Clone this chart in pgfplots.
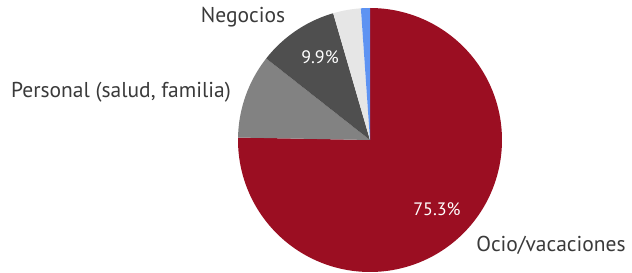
\documentclass[border=0pt]{standalone}
\usepackage{pgfplots}
\pgfplotsset{compat=1.18}
\usepackage{fontspec}
\setmainfont{PT Sans}
\definecolor{ocio}{HTML}{9B0E22}
\definecolor{pers}{HTML}{828282}
\definecolor{nego}{HTML}{4F4F4F}
\definecolor{otro}{HTML}{E6E6E6}
\definecolor{azul}{HTML}{5E93F2}
\definecolor{txt}{HTML}{3A3A3A}
% shares in percent
\def\vOcio{75.3}
\def\vPers{10.3}
\def\vNego{9.9}
\def\vOtro{3.4}
\def\vAzul{1.1}
\begin{document}
\begin{tikzpicture}
\pgfmathsetmacro\aA{90}
\pgfmathsetmacro\aB{\aA-3.6*\vOcio}
\pgfmathsetmacro\aC{\aB-3.6*\vPers}
\pgfmathsetmacro\aD{\aC-3.6*\vNego}
\pgfmathsetmacro\aE{\aD-3.6*\vOtro}
\pgfmathsetmacro\aF{\aE-3.6*\vAzul}
\begin{axis}[
  width=632pt, height=273pt, scale only axis,
  xmin=0, xmax=632, ymin=0, ymax=273,
  hide axis, clip=false,
]
\def\cx{370}\def\cy{133}\def\r{132}
\path (rel axis cs:0,0) rectangle (rel axis cs:1,1);
\addplot[fill=ocio, draw=none, domain=\aB:\aA, samples=180] ({\cx+\r*cos(x)},{\cy+\r*sin(x)}) -- (axis cs:\cx,\cy) -- cycle;
\addplot[fill=pers, draw=none, domain=\aC:\aB, samples=40] ({\cx+\r*cos(x)},{\cy+\r*sin(x)}) -- (axis cs:\cx,\cy) -- cycle;
\addplot[fill=nego, draw=none, domain=\aD:\aC, samples=40] ({\cx+\r*cos(x)},{\cy+\r*sin(x)}) -- (axis cs:\cx,\cy) -- cycle;
\addplot[fill=otro, draw=none, domain=\aE:\aD, samples=20] ({\cx+\r*cos(x)},{\cy+\r*sin(x)}) -- (axis cs:\cx,\cy) -- cycle;
\addplot[fill=azul, draw=none, domain=\aF:\aE, samples=10] ({\cx+\r*cos(x)},{\cy+\r*sin(x)}) -- (axis cs:\cx,\cy) -- cycle;
\node[white, font=\fontsize{18}{21}\selectfont] at (axis cs:320,216) {9.9\%};
\node[white, font=\fontsize{18}{21}\selectfont] at (axis cs:437,64) {75.3\%};
\node[txt, font=\fontsize{21.5}{25}\selectfont] at (axis cs:243,256) {Negocios};
\node[txt, font=\fontsize{21.5}{25}\selectfont] at (axis cs:121,181) {Personal (salud, familia)};
\node[txt, font=\fontsize{21.5}{25}\selectfont] at (axis cs:551,28) {Ocio/vacaciones};
\end{axis}
\end{tikzpicture}
\end{document}
